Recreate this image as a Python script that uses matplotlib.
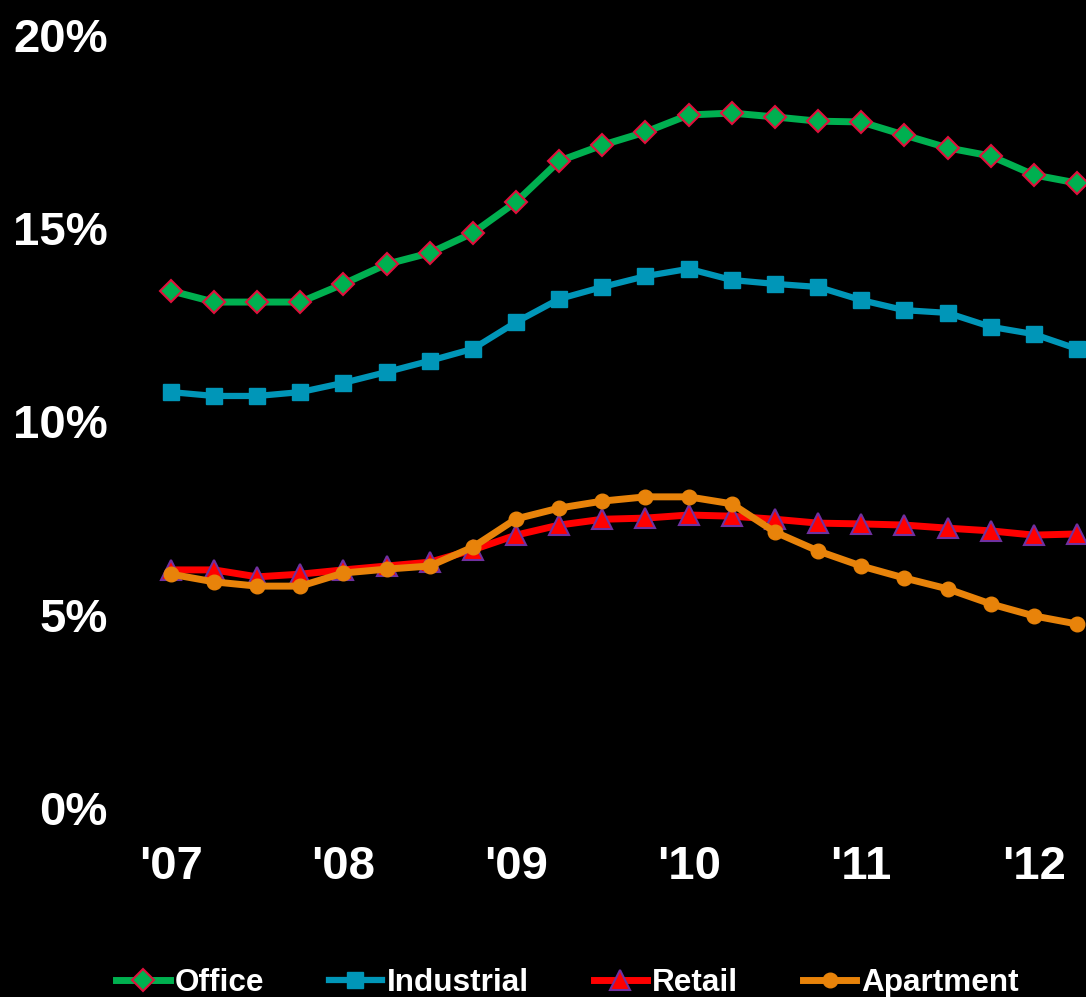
import matplotlib
matplotlib.use("Agg")
import matplotlib.pyplot as plt

plt.rcParams['font.family'] = ['Liberation Sans', 'DejaVu Sans']
plt.rcParams['font.weight'] = 'bold'

# quarterly vacancy rates, 2007 Q1 .. 2012 Q2
quarters = list(range(22))
office = [13.38, 13.09, 13.09, 13.09, 13.56, 14.07, 14.36, 14.88,
          15.68, 16.74, 17.15, 17.49, 17.93, 17.98, 17.88, 17.77,
          17.75, 17.41, 17.08, 16.87, 16.38, 16.17]
industrial = [10.76, 10.66, 10.66, 10.76, 11.00, 11.28, 11.57, 11.88,
              12.57, 13.17, 13.48, 13.76, 13.95, 13.66, 13.56, 13.48,
              13.14, 12.88, 12.81, 12.45, 12.26, 11.88]
retail = [6.16, 6.16, 5.98, 6.05, 6.16, 6.26, 6.36, 6.68,
          7.06, 7.32, 7.47, 7.50, 7.58, 7.55, 7.47, 7.37,
          7.35, 7.32, 7.24, 7.17, 7.06, 7.09]
apartment = [6.05, 5.85, 5.74, 5.74, 6.08, 6.18, 6.26, 6.75,
             7.48, 7.76, 7.94, 8.05, 8.05, 7.87, 7.14, 6.65,
             6.26, 5.95, 5.67, 5.28, 4.97, 4.76]

year_ticks = [0, 4, 8, 12, 16, 20]
year_labels = ["'07", "'08", "'09", "'10", "'11", "'12"]
pct_ticks = [0, 5, 10, 15, 20]

fig = plt.figure(figsize=(10.86, 9.97), dpi=100, facecolor='black')
ax = fig.add_axes([0.1105, 0.1896, 0.8895, 0.7753])
ax.set_facecolor('black')

ax.plot(quarters, office, color='#00B050', lw=5, marker='D', ms=11,
        mfc='#00B050', mec='#E0103C', mew=1.5, label='Office', clip_on=False)
ax.plot(quarters, industrial, color='#0096B8', lw=4.5, marker='s', ms=11,
        mfc='#0096B8', mec='#0096B8', label='Industrial', clip_on=False)
ax.plot(quarters, retail, color='#FF0000', lw=5, marker='^', ms=14,
        mfc='#FF0000', mec='#7030A0', mew=1.5, label='Retail', clip_on=False)
ax.plot(quarters, apartment, color='#E8830A', lw=5, marker='o', ms=10.5,
        mfc='#E8830A', mec='#E8830A', label='Apartment', clip_on=False)

ax.set_xlim(-1.18, 21.21)
ax.set_ylim(0, 20)
ax.set_xticks(year_ticks)
ax.set_xticklabels(year_labels)
ax.set_yticks(pct_ticks)
ax.set_yticklabels([f'{v}%' for v in pct_ticks])
ax.tick_params(axis='both', length=0, colors='white', labelsize=34)
ax.tick_params(axis='y', pad=9)
ax.tick_params(axis='x', pad=27)
for s in ax.spines.values():
    s.set_visible(False)

leg = fig.legend(loc='center', bbox_to_anchor=(0.5225, 0.0136), ncol=4,
                 frameon=False, handlelength=1.7, handletextpad=0.15,
                 columnspacing=2.05, fontsize=22.7, borderpad=0)
for t in leg.get_texts():
    t.set_color('white')

fig.savefig('out.png', dpi=100, facecolor='black')
